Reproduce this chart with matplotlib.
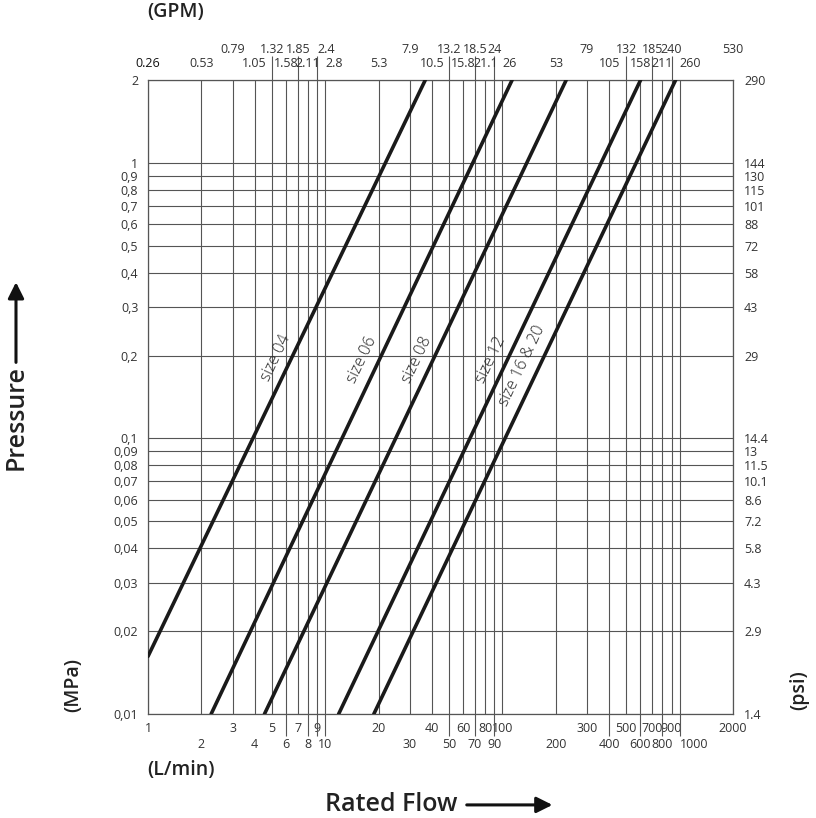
import matplotlib
matplotlib.use("Agg")
import matplotlib.pyplot as plt
from matplotlib.patches import FancyArrowPatch

plt.rcParams['font.family'] = ['Open Sans', 'DejaVu Sans']

# flow axis (L/min) and the matching GPM labels
flow_upper = [1, 3, 5, 7, 9, 20, 40, 60, 80, 100, 300, 500, 700, 900, 2000]
flow_lower = [2, 4, 6, 8, 10, 30, 50, 70, 90, 200, 400, 600, 800, 1000]
gpm_upper_pos = [3, 5, 7, 9, 30, 50, 70, 90, 300, 500, 700, 900, 2000]
gpm_upper = ['0.79', '1.32', '1.85', '2.4', '7.9', '13.2', '18.5', '24',
             '79', '132', '185', '240', '530']
gpm_lower_pos = [1, 2, 4, 6, 8, 10, 20, 40, 60, 80, 100, 200, 400, 600, 800, 1000]
gpm_lower = ['0.26', '0.53', '1.05', '1.58', '2.11', '2.8', '5.3', '10.5',
             '15.8', '21.1', '26', '53', '105', '158', '211', '260']
long_bottom = [6, 8, 9, 10, 50, 70, 90, 400, 600, 800, 1000]
long_top = [5, 7, 9, 50, 70, 90, 500, 700, 900]

# pressure axis (MPa) and psi labels
mpa = [0.01, 0.02, 0.03, 0.04, 0.05, 0.06, 0.07, 0.08, 0.09, 0.1,
       0.2, 0.3, 0.4, 0.5, 0.6, 0.7, 0.8, 0.9, 1, 2]
mpa_labels = ['0,01', '0,02', '0,03', '0,04', '0,05', '0,06', '0,07', '0,08',
              '0,09', '0,1', '0,2', '0,3', '0,4', '0,5', '0,6', '0,7', '0,8',
              '0,9', '1', '2']
psi_labels = ['1.4', '2.9', '4.3', '5.8', '7.2', '8.6', '10.1', '11.5', '13',
              '14.4', '29', '43', '58', '72', '88', '101', '115', '130', '144', '290']

# size curves: (flow start, flow end), (pressure start, pressure end)
sizes = ['size 04', 'size 06', 'size 08', 'size 12', 'size 16 & 20']
flow_start = [1.0, 2.27, 4.54, 11.9, 18.8]
flow_end = [36.7, 113.4, 229, 602, 949]
p_start = [0.0162, 0.01, 0.01, 0.01, 0.01]
p_end = [2, 2, 2, 2, 2]

label_pos = [(5.3, 0.196), (16.2, 0.193), (33.1, 0.193), (86.7, 0.193), (129.7, 0.183)]

gc = '#555555'
tc = '#333333'
fs = 9
fig = plt.figure(figsize=(8.16, 8.18), dpi=100)
ax = fig.add_axes([0.1814, 0.1271, 0.7169, 0.7751])
ax.set_xscale('log')
ax.set_yscale('log')
ax.set_xlim(1, 2000)
ax.set_ylim(0.01, 2)

for i in range(len(sizes)):
    ax.plot([flow_start[i], flow_end[i]], [p_start[i], p_end[i]],
            color='#1a1a1a', lw=2.6, solid_capstyle='round', zorder=3)
    ax.text(label_pos[i][0], label_pos[i][1], sizes[i], rotation=64.5,
            ha='center', va='center', fontsize=11.5, fontweight='light',
            color='#222222', zorder=4)

ax.set_xticks(flow_upper, [str(v) for v in flow_upper])
ax.set_xticks(flow_lower, [str(v) for v in flow_lower], minor=True)
ax.set_yticks(mpa, mpa_labels)
ax.yaxis.set_minor_locator(plt.NullLocator())
ax.tick_params(axis='x', which='major', length=0, pad=5.5, labelsize=fs, labelcolor=tc)
ax.tick_params(axis='x', which='minor', length=0, pad=17, labelsize=fs, labelcolor=tc)
ax.tick_params(axis='y', length=0, pad=7, labelsize=fs, labelcolor=tc)
ax.grid(True, which='both', color=gc, lw=0.8)
for s in ax.spines.values():
    s.set_color(gc)
    s.set_linewidth(0.9)
for lab in ax.get_xticklabels(minor=True):
    if lab.get_text() == '1000':
        lab.set_ha('left')

xt = ax.get_xaxis_transform()
ax.vlines(long_bottom, -0.034, 0, transform=xt, color=gc, lw=0.8, clip_on=False)
ax.vlines(long_top, 1, 1.038, transform=xt, color=gc, lw=0.8, clip_on=False)

top = ax.twiny()
top.set_xscale('log')
top.set_xlim(ax.get_xlim())
top.set_xticks(gpm_upper_pos, gpm_upper)
top.set_xticks(gpm_lower_pos, gpm_lower, minor=True)
top.tick_params(axis='x', which='major', length=0, pad=17.5, labelsize=fs, labelcolor=tc)
top.tick_params(axis='x', which='minor', length=0, pad=7, labelsize=fs, labelcolor=tc)
top.get_xticklabels(minor=True)[0].set_color('#111111')
for lab in top.get_xticklabels(minor=True) + top.get_xticklabels():
    if lab.get_text() in ('2.8', '260', '26', '2.4'):
        lab.set_ha('left')

right = ax.twinx()
right.set_yscale('log')
right.set_ylim(ax.get_ylim())
right.set_yticks(mpa, psi_labels)
right.yaxis.set_minor_locator(plt.NullLocator())
right.tick_params(axis='y', length=0, pad=8, labelsize=fs, labelcolor=tc)
for a in (top, right):
    for s in a.spines.values():
        s.set_visible(False)

# axis titles
fig.text(0.181, 0.985, '(GPM)', fontsize=14, fontweight='semibold', color='#222222',
         ha='left', va='center')
fig.text(0.181, 0.0587, '(L/min)', fontsize=14, fontweight='semibold', color='#222222',
         ha='left', va='center')
fig.text(0.0895, 0.1626, '(MPa)', fontsize=14, fontweight='semibold', color='#222222',
         rotation=90, ha='center', va='center')
fig.text(0.980, 0.1565, '(psi)', fontsize=14, fontweight='semibold', color='#222222',
         rotation=90, ha='center', va='center')
fig.text(0.0196, 0.489, 'Pressure', fontsize=18, fontweight='semibold', color='#222222',
         rotation=90, ha='center', va='center')
fig.text(0.398, 0.016, 'Rated Flow', fontsize=18, fontweight='semibold', color='#222222',
         ha='left', va='center')
arrow = dict(arrowstyle='-|>,head_length=0.8,head_width=0.4', color='#111111',
             lw=2.2, mutation_scale=12, shrinkA=0, shrinkB=0)
fig.add_artist(FancyArrowPatch((0.0196, 0.557), (0.0196, 0.655),
               transform=fig.transFigure, **arrow))
fig.add_artist(FancyArrowPatch((0.572, 0.016), (0.677, 0.016),
               transform=fig.transFigure, **arrow))

fig.savefig('out.png', dpi=100)
